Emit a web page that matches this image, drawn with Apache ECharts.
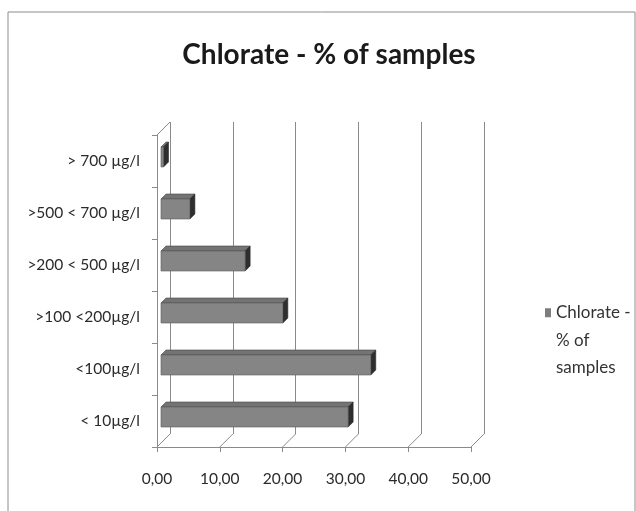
<!DOCTYPE html>
<html>
<head>
<meta charset="utf-8">
<script src="https://cdn.jsdelivr.net/npm/echarts@6/dist/echarts.min.js"></script>
<style>html,body{margin:0;padding:0;background:#fff}#c{width:636px;height:511px}</style>
</head>
<body>
<div id="c"></div>
<script>
// ---- data ----
const categories = ['< 10µg/l', '<100µg/l', '>100 <200µg/l', '>200 < 500 µg/l', '>500 < 700 µg/l', '> 700 µg/l'];
const values = [29.8, 33.4, 19.4, 13.4, 4.6, 0.4];
const xTicks = [0, 10, 20, 30, 40, 50];
const seriesName = 'Chlorate - % of samples';
const legendLines = ['Chlorate -', '% of', 'samples'];
const titleText = 'Chlorate - % of samples';

const FONT = 'Lato';
const WALL = 13;   // back-wall offset (px)
const BOFF = 4;    // bar plane offset (px)
const BDEP = 5;    // bar depth (px)

const chart = echarts.init(document.getElementById('c'), null, {renderer: 'canvas'});

function barItem(params, api) {
  const v = api.value(0), i = api.value(1);
  const p0 = api.coord([0, i]);
  const p1 = api.coord([v, i]);
  const band = api.size([0, 1])[1];
  const h = band * 0.385;
  const x0 = p0[0] + BOFF, x1 = p1[0] + BOFF;
  const yc = p0[1] - BOFF;
  const yT = yc - h / 2, yB = yc + h / 2;
  const d = BDEP;
  return {
    type: 'group',
    children: [
      {type: 'polygon', shape: {points: [[x0, yT], [x1, yT], [x1 + d, yT - d], [x0 + d, yT - d]]},
        style: {fill: '#737373', stroke: '#4a4a4a', lineWidth: 0.6}},
      {type: 'polygon', shape: {points: [[x1, yT], [x1 + d, yT - d], [x1 + d, yB - d], [x1, yB]]},
        style: {fill: '#2e2e2e', stroke: '#2a2a2a', lineWidth: 0.6}},
      {type: 'rect', shape: {x: x0, y: yT, width: Math.max(x1 - x0, 0.5), height: h},
        style: {fill: '#858585', stroke: '#5a5a5a', lineWidth: 0.6}}
    ]
  };
}

function floorItem(params, api) {
  const v = api.value(0);
  const band = api.size([0, 1])[1];
  const p = api.coord([v, 0]);
  const y = p[1] + band / 2;
  return {type: 'line', shape: {x1: p[0], y1: y, x2: p[0] + WALL, y2: y - WALL},
    style: {stroke: '#8a8a8a', lineWidth: 1}};
}

function sideItem(params, api) {
  const band = api.size([0, 1])[1];
  const p = api.coord([0, categories.length - 1]);
  const y = p[1] - band / 2;
  return {type: 'line', shape: {x1: p[0], y1: y, x2: p[0] + WALL, y2: y - WALL},
    style: {stroke: '#8a8a8a', lineWidth: 1}};
}

const fmt = v => v.toFixed(2).replace('.', ',');

const option = {
  animation: false,
  backgroundColor: '#fff',
  title: {
    text: titleText, left: 324, top: 36, textAlign: 'center',
    textStyle: {fontFamily: FONT, fontSize: 28, fontWeight: 'bold', color: '#1a1a1a'}
  },
  legend: {
    orient: 'vertical', left: 540, top: 239,
    itemWidth: 6, itemHeight: 9, icon: 'rect',
    data: [{name: seriesName, itemStyle: {color: '#7d7d7d'}}],
    // two empty lines above keep the marker level with the first text line
    formatter: () => ' \n \n' + legendLines.join('\n'),
    textStyle: {fontFamily: FONT, fontSize: 17, color: '#333', lineHeight: 27.5}
  },
  graphic: [
    {type: 'rect', shape: {x: 8, y: 12, width: 627, height: 520}, style: {fill: 'none', stroke: '#8c8c8c', lineWidth: 1}, silent: true, z: -1}
  ],
  grid: [
    {left: 157, top: 135, width: 314, height: 312, containLabel: false},
    {left: 157 + WALL, top: 135 - WALL, width: 314, height: 312, containLabel: false}
  ],
  xAxis: [
    {type: 'value', gridIndex: 0, min: 0, max: 50, interval: 10,
      axisLine: {show: true, lineStyle: {color: '#8a8a8a'}},
      axisTick: {show: true, length: 5, lineStyle: {color: '#8a8a8a'}},
      splitLine: {show: false},
      axisLabel: {formatter: fmt, margin: 24, fontFamily: FONT, fontSize: 15.5, color: '#2a2a2a'}},
    {type: 'value', gridIndex: 1, min: 0, max: 50, interval: 10,
      axisLine: {show: false}, axisTick: {show: false}, axisLabel: {show: false},
      splitLine: {show: true, lineStyle: {color: '#8a8a8a', width: 1}}}
  ],
  yAxis: [
    {type: 'category', gridIndex: 0, data: categories,
      axisLine: {show: true, lineStyle: {color: '#8a8a8a'}},
      axisTick: {show: true, length: 5, lineStyle: {color: '#8a8a8a'}},
      axisLabel: {margin: 17, fontFamily: FONT, fontSize: 15.5, color: '#2a2a2a'}},
    {type: 'category', gridIndex: 1, data: categories, show: false}
  ],
  series: [
    {name: seriesName, type: 'custom', xAxisIndex: 0, yAxisIndex: 0,
      itemStyle: {color: '#7d7d7d'},
      renderItem: barItem, encode: {x: 0, y: 1},
      data: values.map((v, i) => [v, i]), z: 5},
    {name: 'floor', type: 'custom', xAxisIndex: 0, yAxisIndex: 0,
      renderItem: floorItem, encode: {x: 0},
      data: xTicks.map(t => [t, 0]), z: 2, silent: true},
    {name: 'side', type: 'custom', xAxisIndex: 0, yAxisIndex: 0,
      renderItem: sideItem, data: [[0, 0]], z: 2, silent: true}
  ]
};
chart.setOption(option);
</script>
</body>
</html>
